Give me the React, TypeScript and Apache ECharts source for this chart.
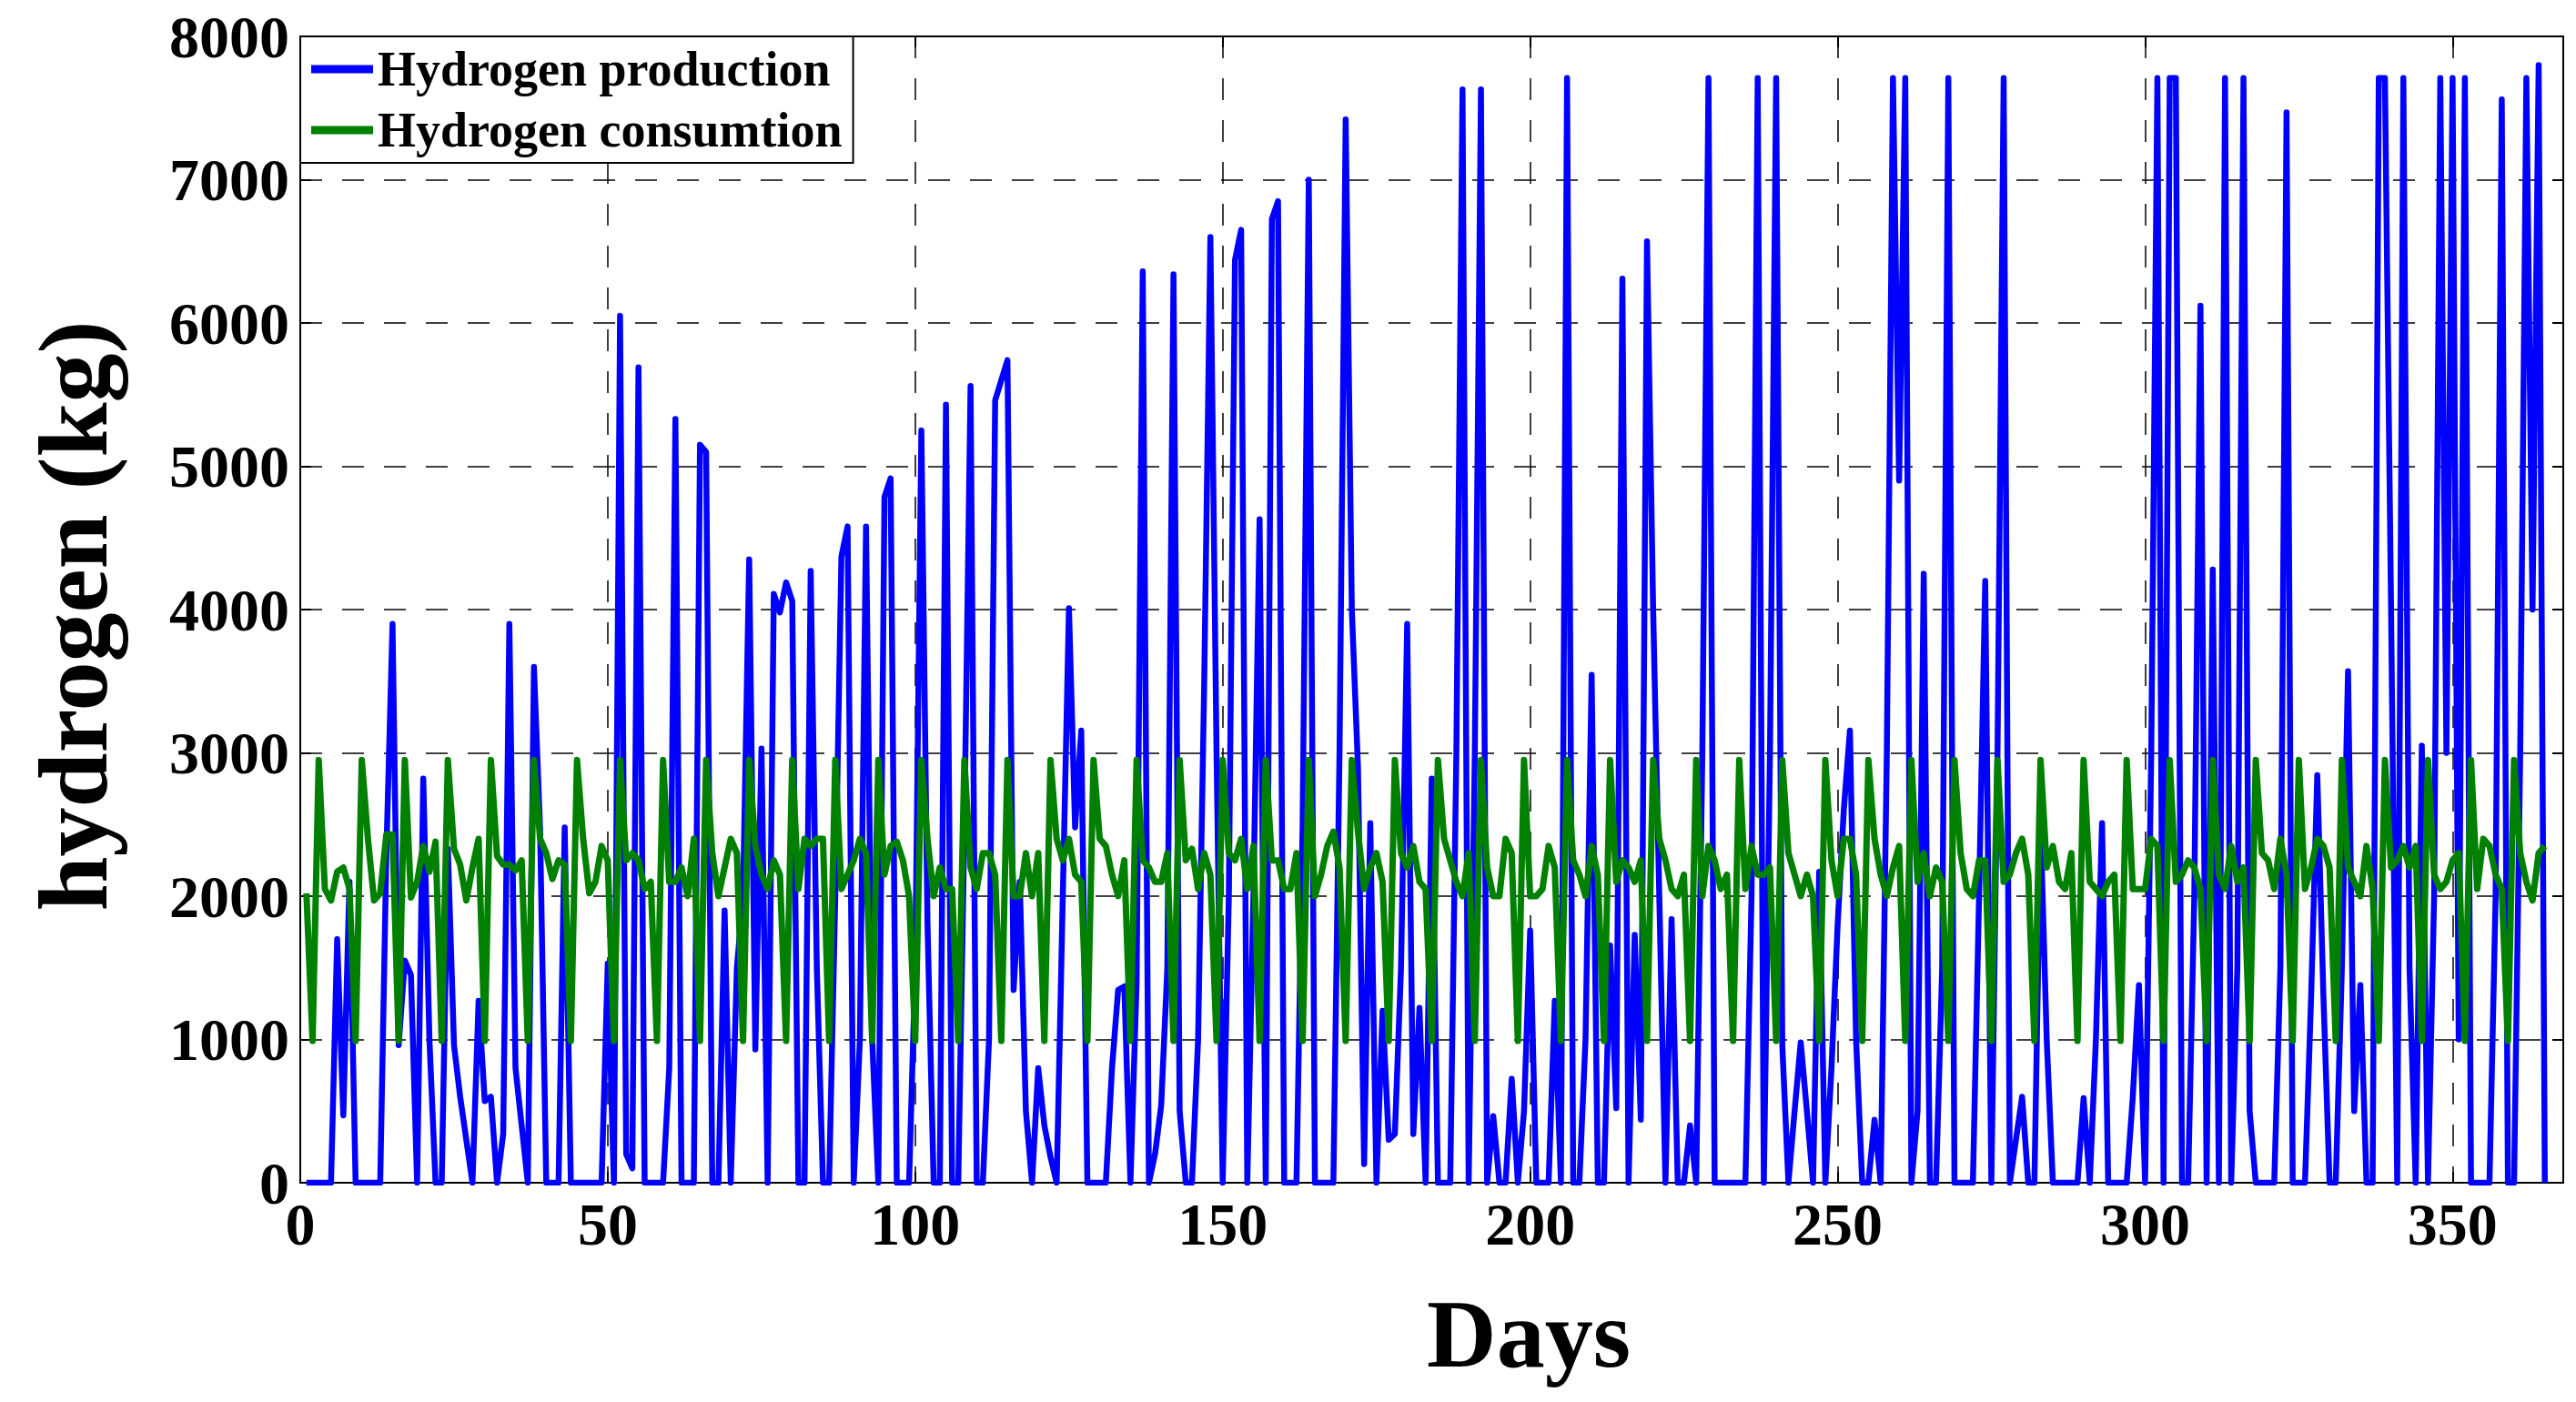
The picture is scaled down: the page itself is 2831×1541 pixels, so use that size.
import React, { useEffect, useRef } from "react";
import * as echarts from "echarts";

// Daily hydrogen production (kg), days 1..365
const production = [
  0, 0, 0, 0, 0, 1700, 470, 2100, 0, 0,
  0, 0, 0, 2300, 3900, 960, 1550, 1450, 0, 2820,
  1000, 0, 0, 2330, 960, 600, 300, 0, 1270, 570,
  600, 0, 340, 3900, 800, 400, 0, 3600, 2460, 0,
  0, 0, 2480, 0, 0, 0, 0, 0, 0, 1530,
  0, 6050, 200, 100, 5690, 0, 0, 0, 0, 800,
  5330, 0, 0, 0, 5150, 5100, 0, 0, 1900, 0,
  1500, 2000, 4350, 930, 3030, 0, 4110, 3980, 4190, 4060,
  0, 0, 4270, 1500, 0, 0, 2000, 4370, 4580, 0,
  1000, 4580, 1000, 0, 4785, 4915, 0, 0, 0, 1500,
  5250, 1800, 0, 0, 5430, 0, 0, 2500, 5560, 0,
  0, 1000, 5460, 5600, 5740, 1345, 2100, 500, 0, 800,
  400, 180, 0, 2000, 4010, 2480, 3155, 0, 0, 0,
  0, 800, 1345, 1370, 0, 1400, 6360, 0, 200, 540,
  1500, 6340, 500, 0, 0, 1000, 3500, 6600, 3000, 0,
  2000, 6440, 6650, 0, 2000, 4630, 0, 6725, 6850, 0,
  0, 0, 2500, 7000, 0, 0, 0, 0, 3000, 7420,
  4000, 2900, 130, 2510, 0, 1200, 300, 340, 1500, 3900,
  340, 1220, 0, 2820, 0, 0, 0, 3000, 7630, 0,
  3000, 7630, 0, 465, 0, 0, 725, 0, 500, 1760,
  0, 0, 0, 1270, 0, 7710, 0, 0, 1000, 3545,
  0, 0, 1655, 520, 6310, 0, 1730, 440, 6570, 4000,
  2000, 0, 1840, 0, 0, 400, 0, 3000, 7710, 0,
  0, 0, 0, 0, 0, 2000, 7710, 0, 3000, 7710,
  960, 0, 500, 980, 500, 0, 2170, 0, 800, 1800,
  2600, 3155, 1000, 0, 0, 440, 0, 3000, 7710, 4900,
  7710, 0, 500, 4250, 0, 0, 1500, 7710, 0, 0,
  0, 0, 2000, 4200, 0, 3000, 7710, 0, 300, 600,
  0, 0, 2500, 1000, 0, 0, 0, 0, 0, 590,
  0, 1000, 2510, 0, 0, 0, 0, 600, 1380, 0,
  3000, 7710, 0, 7710, 7710, 0, 0, 2000, 6120, 0,
  4280, 0, 7710, 0, 1500, 7710, 500, 0, 0, 0,
  0, 1500, 7470, 0, 0, 0, 1300, 2845, 1300, 0,
  0, 1500, 3570, 500, 1380, 0, 0, 7710, 7710, 4000,
  0, 7710, 1500, 0, 3050, 0, 2000, 7710, 3000, 7710,
  1000, 7710, 0, 0, 0, 0, 2000, 7560, 0, 0,
  3000, 7710, 4000, 7800, 0,
];

// Daily hydrogen consumption (kg), days 1..365
const consumption = [
  2020,
  990, 2950, 2050, 1970, 2170, 2200, 2050,
  990, 2950, 2400, 1970, 2020, 2430, 2430,
  990, 2950, 1990, 2100, 2350, 2170, 2380,
  990, 2950, 2330, 2220, 1970, 2200, 2400,
  990, 2950, 2280, 2220, 2220, 2180, 2250,
  990, 2950, 2400, 2300, 2120, 2250, 2220,
  990, 2950, 2400, 2020, 2100, 2350, 2250,
  990, 2950, 2250, 2300, 2250, 2050, 2100,
  990, 2950, 2100, 2100, 2200, 2000, 2400,
  990, 2950, 2300, 2000, 2200, 2400, 2300,
  990, 2950, 2350, 2150, 2050, 2250, 2150,
  990, 2950, 2050, 2400, 2350, 2400, 2400,
  990, 2950, 2050, 2150, 2250, 2400, 2300,
  990, 2950, 2150, 2350, 2380, 2250, 2000,
  990, 2950, 2400, 2000, 2200, 2050, 2050,
  990, 2950, 2200, 2050, 2300, 2300, 2150,
  990, 2950, 2000, 2000, 2300, 2000, 2300,
  990, 2950, 2400, 2250, 2400, 2150, 2100,
  990, 2950, 2400, 2350, 2150, 2000, 2250,
  990, 2950, 2250, 2200, 2100, 2100, 2300,
  990, 2950, 2250, 2330, 2050, 2300, 2150,
  990, 2950, 2300, 2250, 2400, 2050, 2350,
  990, 2950, 2250, 2250, 2050, 2050, 2300,
  990, 2950, 2000, 2150, 2350, 2450, 2200,
  990, 2950, 2450, 2050, 2200, 2300, 2100,
  990, 2950, 2300, 2200, 2350, 2100, 2050,
  990, 2950, 2400, 2250, 2100, 2000, 2300,
  990, 2950, 2200, 2000, 2000, 2400, 2300,
  990, 2950, 2000, 2000, 2050, 2350, 2200,
  990, 2950, 2250, 2150, 2000, 2350, 2150,
  990, 2950, 2100, 2250, 2200, 2100, 2250,
  990, 2950, 2400, 2250, 2050, 2000, 2150,
  990, 2950, 2000, 2350, 2250, 2050, 2150,
  990, 2950, 2050, 2350, 2150, 2150, 2200,
  990, 2950, 2300, 2150, 2000, 2150, 2000,
  990, 2950, 2250, 2000, 2400, 2400, 2150,
  990, 2950, 2400, 2150, 2000, 2200, 2350,
  990, 2950, 2100, 2300, 2000, 2200, 2100,
  990, 2950, 2300, 2050, 2000, 2250, 2250,
  990, 2950, 2100, 2150, 2300, 2400, 2150,
  990, 2950, 2200, 2350, 2100, 2050, 2300,
  990, 2950, 2100, 2050, 2000, 2100, 2150,
  990, 2950, 2050, 2050, 2050, 2400, 2350,
  990, 2950, 2100, 2150, 2250, 2200, 2050,
  990, 2950, 2150, 2050, 2350, 2100, 2200,
  990, 2950, 2300, 2250, 2050, 2400, 2150,
  990, 2950, 2050, 2200, 2400, 2350, 2200,
  990, 2950, 2200, 2100, 2000, 2350, 2050,
  990, 2950, 2200, 2250, 2350, 2200, 2350,
  990, 2950, 2150, 2050, 2100, 2250, 2300,
  990, 2950, 2050, 2400, 2350, 2150, 2050,
  990, 2950, 2300, 2100, 1970, 2300, 2350,
];

const seriesNames = ["Hydrogen production", "Hydrogen consumtion"];
const xTickLabels = [0, 50, 100, 150, 200, 250, 300, 350];
const yTickLabels = [0, 1000, 2000, 3000, 4000, 5000, 6000, 7000, 8000];
const xAxisTitle = "Days";
const yAxisTitle = "hydrogen (kg)";

export default function App() {
  const ref = useRef<HTMLDivElement>(null);

  useEffect(() => {
    if (!ref.current) return;
    const chart = echarts.init(ref.current, null, { renderer: "svg" });
    const font = "'Liberation Serif', 'Times New Roman', serif";
    const prodData = production.map((v, i) => [i + 1, v]);
    const consData = consumption.map((v, i) => [i + 1, v]);
    const labelStyle = {
      fontFamily: font,
      fontWeight: "bold" as const,
      fontSize: 66,
      color: "#000",
    };
    const dashed = { color: "#000", width: 1.5, type: [24, 22] as any };
    const axisLine = { show: true, onZero: false, lineStyle: { color: "#000", width: 2 } };
    const tick = { show: true, inside: true, length: 12, lineStyle: { color: "#000", width: 2 } };

    chart.setOption({
      animation: false,
      backgroundColor: "#fff",
      grid: {
        left: 330,
        top: 40,
        right: 14,
        bottom: 241,
        show: true,
        borderColor: "#000",
        borderWidth: 2,
        backgroundColor: "transparent",
      },
      legend: {
        left: 330,
        top: 40,
        orient: "vertical",
        data: seriesNames,
        icon: "rect",
        itemWidth: 68,
        itemHeight: 9,
        itemGap: 7,
        padding: [6, 12, 6, 12],
        borderColor: "#000",
        borderWidth: 2,
        backgroundColor: "#fff",
        selectedMode: false,
        textStyle: {
          fontFamily: font,
          fontWeight: "bold",
          fontSize: 54,
          lineHeight: 60,
          color: "#000",
        },
      },
      xAxis: [
        {
          type: "value",
          min: 0,
          max: 368,
          interval: 50,
          position: "bottom",
          axisLine,
          axisTick: tick,
          axisLabel: {
            ...labelStyle,
            margin: 12,
            formatter: (v: number) => (xTickLabels.indexOf(v) >= 0 ? String(v) : ""),
          },
          splitLine: { show: true, lineStyle: dashed },
        },
        {
          type: "value",
          min: 0,
          max: 368,
          interval: 50,
          position: "top",
          axisLine,
          axisTick: tick,
          axisLabel: { show: false },
          splitLine: { show: false },
        },
      ],
      yAxis: [
        {
          type: "value",
          min: 0,
          max: 8000,
          interval: 1000,
          position: "left",
          axisLine,
          axisTick: tick,
          axisLabel: {
            ...labelStyle,
            margin: 12,
            formatter: (v: number) => (yTickLabels.indexOf(v) >= 0 ? String(v) : ""),
          },
          splitLine: { show: true, lineStyle: dashed },
        },
        {
          type: "value",
          min: 0,
          max: 8000,
          interval: 1000,
          position: "right",
          axisLine,
          axisTick: tick,
          axisLabel: { show: false },
          splitLine: { show: false },
        },
      ],
      series: [
        {
          name: seriesNames[0],
          type: "line",
          data: prodData,
          xAxisIndex: 0,
          yAxisIndex: 0,
          symbol: "none",
          showSymbol: false,
          lineStyle: { color: "#0000ff", width: 6.5, join: "round" },
          itemStyle: { color: "#0000ff" },
          z: 2,
        },
        {
          name: seriesNames[1],
          type: "line",
          data: consData,
          xAxisIndex: 0,
          yAxisIndex: 0,
          symbol: "none",
          showSymbol: false,
          lineStyle: { color: "#008000", width: 7, join: "round" },
          itemStyle: { color: "#008000" },
          z: 3,
        },
      ],
      graphic: [
        {
          type: "text",
          x: 1680,
          y: 1466,
          style: {
            text: xAxisTitle,
            fontFamily: font,
            fontWeight: "bold",
            fontSize: 106,
            fill: "#000",
            align: "center",
            verticalAlign: "middle",
          },
        },
        {
          type: "text",
          x: 80,
          y: 677,
          rotation: Math.PI / 2,
          style: {
            text: yAxisTitle,
            fontFamily: font,
            fontWeight: "bold",
            fontSize: 108,
            fill: "#000",
            align: "center",
            verticalAlign: "middle",
          },
        },
      ],
    });
    return () => chart.dispose();
  }, []);

  return (
    <div
      ref={ref}
      style={{ position: "fixed", left: 0, top: 0, width: 2831, height: 1541, background: "#fff" }}
    />
  );
}
